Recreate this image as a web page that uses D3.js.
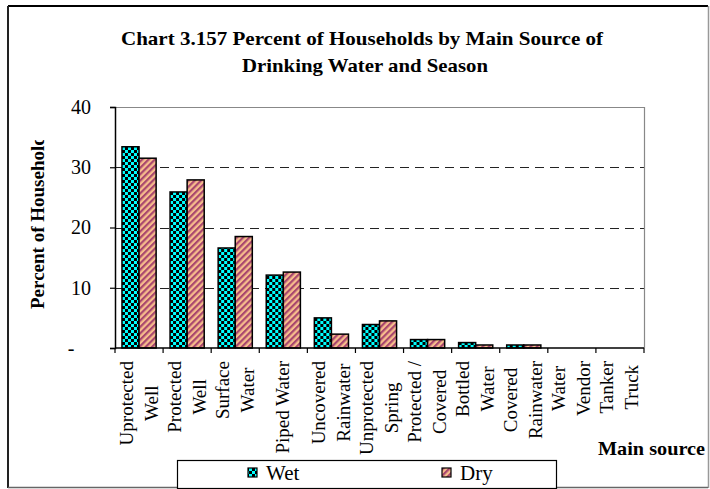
<!DOCTYPE html>
<html><head><meta charset="utf-8">
<script src="https://cdn.jsdelivr.net/npm/d3@7"></script>
<style>
html,body{margin:0;padding:0;background:#fff;}
svg{display:block;}
svg text{font-family:"Liberation Serif","Times New Roman",serif;}
</style></head>
<body>
<svg id="chart" width="710" height="489"></svg>
<script>
const categories = ["Uprotected Well","Protected Well","Surface Water","Piped Water","Uncovered Rainwater","Unprotected Spring","Protected / Covered","Bottled Water","Covered Rainwater","Water Vendor","Tanker Truck"];
const categoryLines = [["Uprotected","Well"],["Protected","Well"],["Surface","Water"],["Piped Water"],["Uncovered","Rainwater"],["Unprotected","Spring"],["Protected /","Covered"],["Bottled","Water"],["Covered","Rainwater"],["Water","Vendor"],["Tanker","Truck"]];
const seriesNames = ["Wet","Dry"];
const wetValues = [33.4,25.9,16.6,12.1,5.0,3.9,1.4,0.9,0.5,0,0];
const dryValues = [31.5,27.9,18.5,12.6,2.3,4.5,1.4,0.5,0.5,0,0];
const yTicks = [0,10,20,30,40];
const titleLines = ["Chart 3.157  Percent of Households by Main Source of","Drinking Water and Season"];
const yTitle = "Percent of Households";
const xTitle = "Main source";

const svg = d3.select("#chart");
const defs = svg.append("defs");

// patterns
const pw = defs.append("pattern").attr("id","pWet").attr("patternUnits","userSpaceOnUse").attr("width",6).attr("height",6);
pw.append("rect").attr("width",6).attr("height",6).attr("fill","#00ffff");
pw.append("rect").attr("x",0).attr("y",0).attr("width",3).attr("height",3).attr("fill","#000");
pw.append("rect").attr("x",3).attr("y",3).attr("width",3).attr("height",3).attr("fill","#000");
const pd = defs.append("pattern").attr("id","pDry").attr("patternUnits","userSpaceOnUse").attr("width",4.5).attr("height",4.5).attr("patternTransform","rotate(45)");
pd.append("rect").attr("width",4.5).attr("height",4.5).attr("fill","#f7bd8c");
pd.append("rect").attr("width",2.2).attr("height",4.5).attr("fill","#a8466e");
const fills = {Wet:"url(#pWet)", Dry:"url(#pDry)"};

const L=115, R=644, T=107, B=348;
const y = d3.scaleLinear().domain([0,40]).range([B,T]);
const x0 = d3.scaleBand().domain(categories).range([L,R]).paddingInner(0.29).paddingOuter(0.145);
const x1 = d3.scaleBand().domain(seriesNames).range([0,x0.bandwidth()]);
const step = x0.step();
const boundary = i => x0(categories[0]) - x0.paddingInner()*step/2 + i*step;

// outer border
svg.append("line").attr("x1",8).attr("y1",6).attr("x2",708).attr("y2",6).attr("stroke","#000").attr("stroke-width",2);
svg.append("line").attr("x1",8).attr("y1",6).attr("x2",8).attr("y2",488).attr("stroke","#222").attr("stroke-width",2);
svg.append("line").attr("x1",708.5).attr("y1",6).attr("x2",708.5).attr("y2",488).attr("stroke","#999").attr("stroke-width",1.5);
svg.append("line").attr("x1",8).attr("y1",487.5).attr("x2",708).attr("y2",487.5).attr("stroke","#666").attr("stroke-width",1.5);

// title
svg.append("text").attr("x",362).attr("y",45).attr("text-anchor","middle").attr("font-weight","bold").attr("font-size",19)
  .attr("textLength",482).attr("lengthAdjust","spacingAndGlyphs").text(titleLines[0]);
svg.append("text").attr("x",365).attr("y",72).attr("text-anchor","middle").attr("font-weight","bold").attr("font-size",19)
  .attr("textLength",246).attr("lengthAdjust","spacingAndGlyphs").text(titleLines[1]);

// grid
const g = svg.append("g");
g.selectAll("line.grid").data(yTicks.filter(d=>d>0 && d<40)).join("line")
  .attr("x1",L).attr("x2",R).attr("y1",d=>Math.round(y(d))+0.5).attr("y2",d=>Math.round(y(d))+0.5)
  .attr("stroke","#222").attr("stroke-width",1).attr("stroke-dasharray","9,6");
g.append("line").attr("x1",L).attr("x2",R).attr("y1",T+0.5).attr("y2",T+0.5).attr("stroke","#888").attr("stroke-width",1.2);
g.append("line").attr("x1",R+0.5).attr("x2",R+0.5).attr("y1",T).attr("y2",B).attr("stroke","#888").attr("stroke-width",1.2);

// bars
const rows = categories.map((c,i)=>({cat:c, vals:[{s:"Wet",v:wetValues[i]},{s:"Dry",v:dryValues[i]}]}));
const cg = svg.append("g").selectAll("g").data(rows).join("g").attr("transform",d=>`translate(${x0(d.cat)},0)`);
cg.selectAll("rect").data(d=>d.vals.filter(e=>e.v>0)).join("rect")
  .attr("x",d=>x1(d.s)).attr("width",x1.bandwidth())
  .attr("y",d=>y(d.v)).attr("height",d=>B-y(d.v))
  .attr("fill",d=>fills[d.s]).attr("stroke","#000").attr("stroke-width",1.5);

// y axis
const yAxis = d3.axisLeft(y).tickValues(yTicks).tickSize(5).tickPadding(19).tickFormat(d=>d===0?"-":d);
const ya = svg.append("g").attr("transform",`translate(${L},0)`).call(yAxis);
ya.attr("font-family",null);
ya.select(".domain").attr("stroke","#000").attr("stroke-width",1.5);
ya.selectAll(".tick line").attr("stroke","#000").attr("stroke-width",1.2);
ya.selectAll(".tick text").attr("font-size",20).style("font-family","'Liberation Serif','Times New Roman',serif").attr("fill","#000");
ya.selectAll(".tick text").filter(d=>d===0).attr("x",-44).attr("text-anchor","middle");

// x axis line and boundary ticks
svg.append("line").attr("x1",L).attr("x2",R).attr("y1",B).attr("y2",B).attr("stroke","#000").attr("stroke-width",1.5);
svg.append("g").selectAll("line").data(d3.range(categories.length+1)).join("line")
  .attr("x1",i=>boundary(i)).attr("x2",i=>boundary(i)).attr("y1",B).attr("y2",B+5).attr("stroke","#000").attr("stroke-width",1.2);

// x labels
const lab = svg.append("g").attr("font-size",19);
categoryLines.forEach((lines,i)=>{
  const cx = x0(categories[i]) + x0.bandwidth()/2;
  const tmp = lines.map(t=>{ const n=lab.append("text").text(t); const w=n.node().getComputedTextLength(); n.remove(); return w; });
  const maxLen = d3.max(tmp);
  lines.forEach((t,j)=>{
    const off = 6 + (j - (lines.length-1)/2)*25;
    lab.append("text").attr("text-anchor","middle")
      .attr("transform",`translate(${cx+off},${361+maxLen/2}) rotate(-90)`).text(t);
  });
});

// y title (clipped)
defs.append("clipPath").attr("id","yclip").append("rect").attr("x",0).attr("y",140).attr("width",100).attr("height",250);
svg.append("g").attr("clip-path","url(#yclip)").append("text")
  .attr("transform","translate(44,309) rotate(-90)").attr("font-weight","bold").attr("font-size",19).text(yTitle);

// x title
svg.append("text").attr("x",598).attr("y",455).attr("font-weight","bold").attr("font-size",19)
  .attr("textLength",107).attr("lengthAdjust","spacingAndGlyphs").text(xTitle);

// legend
const lg = svg.append("g");
lg.append("rect").attr("x",177.5).attr("y",460.5).attr("width",379).attr("height",28).attr("fill","#fff").attr("stroke","#000").attr("stroke-width",1.2);
const legX = {Wet:248, Dry:442};
seriesNames.forEach(s=>{
  lg.append("rect").attr("x",legX[s]).attr("y",468).attr("width",9).attr("height",9).attr("fill",fills[s]).attr("stroke","#000").attr("stroke-width",1.2);
  lg.append("text").attr("x",legX[s]+18).attr("y",480).attr("font-size",21).text(s);
});
</script>
</body></html>
